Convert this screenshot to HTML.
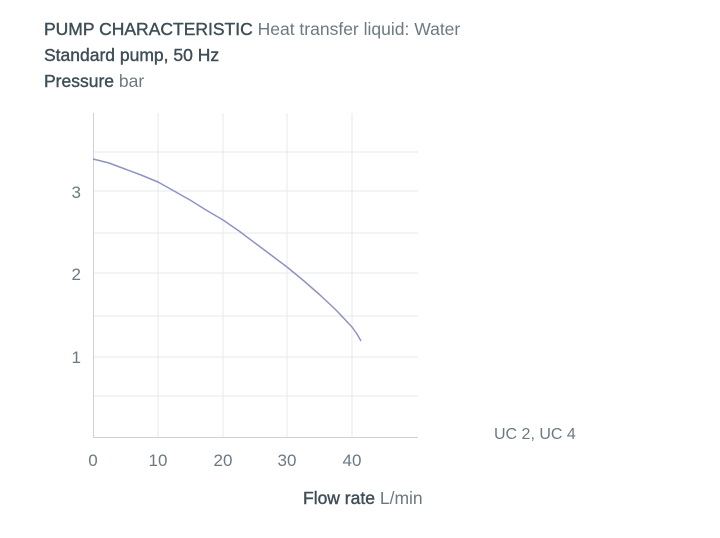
<!DOCTYPE html>
<html><head><meta charset="utf-8"><style>
body{margin:0;background:#fff;width:720px;height:538px;overflow:hidden;font-family:"Liberation Sans",sans-serif;color:#4f5f68}
.t{position:absolute;left:44px;font-size:17.5px;white-space:nowrap}
b{font-weight:normal;color:#3e4e57;-webkit-text-stroke:0.4px #3e4e57}
.l{color:#6b7a82}
</style></head><body>
<div class="t" style="top:19px"><b>PUMP CHARACTERISTIC</b> <span class="l">Heat transfer liquid: Water</span></div>
<div class="t" style="top:45px"><b>Standard pump, 50 Hz</b></div>
<div class="t" style="top:71px"><b>Pressure</b> <span class="l">bar</span></div>
<svg width="720" height="538" style="position:absolute;left:0;top:0">
<g stroke="#e6e9eb" stroke-width="1">
<line x1="158" y1="113" x2="158" y2="437"/><line x1="223" y1="113" x2="223" y2="437"/>
<line x1="287" y1="113" x2="287" y2="437"/><line x1="352" y1="113" x2="352" y2="437"/>
<line x1="93" y1="152" x2="418" y2="152"/><line x1="93" y1="191" x2="418" y2="191"/>
<line x1="93" y1="233" x2="418" y2="233"/><line x1="93" y1="273" x2="418" y2="273"/>
<line x1="93" y1="316" x2="418" y2="316"/><line x1="93" y1="357" x2="418" y2="357"/>
<line x1="93" y1="396" x2="418" y2="396"/>
</g>
<g stroke="#ccd2d6" stroke-width="1"><line x1="93.5" y1="113" x2="93.5" y2="437"/><line x1="93" y1="437.5" x2="418" y2="437.5"/></g>
<polyline points="93,159 109,163 125,169 141,175 158,182 174,191 190,200 206,210 223,220 239,231 255,243 271,255 287,267 304,281 320,295 336,310 352,327 357,334 361,341" fill="none" stroke="#8f93c4" stroke-width="1.5" stroke-linejoin="round"/>
<g font-family="Liberation Sans,sans-serif" font-size="17" fill="#6b7a82">
<text x="81" y="198" text-anchor="end">3</text><text x="81" y="280" text-anchor="end">2</text><text x="81" y="363" text-anchor="end">1</text>
<text x="93" y="466" text-anchor="middle">0</text><text x="158" y="466" text-anchor="middle">10</text>
<text x="223" y="466" text-anchor="middle">20</text><text x="287" y="466" text-anchor="middle">30</text>
<text x="352" y="466" text-anchor="middle">40</text>
<text x="494" y="439" font-size="16">UC 2, UC 4</text>
</g>
</svg>
<div class="t" style="top:488px;left:303px"><b>Flow rate</b> <span class="l">L/min</span></div>
</body></html>
